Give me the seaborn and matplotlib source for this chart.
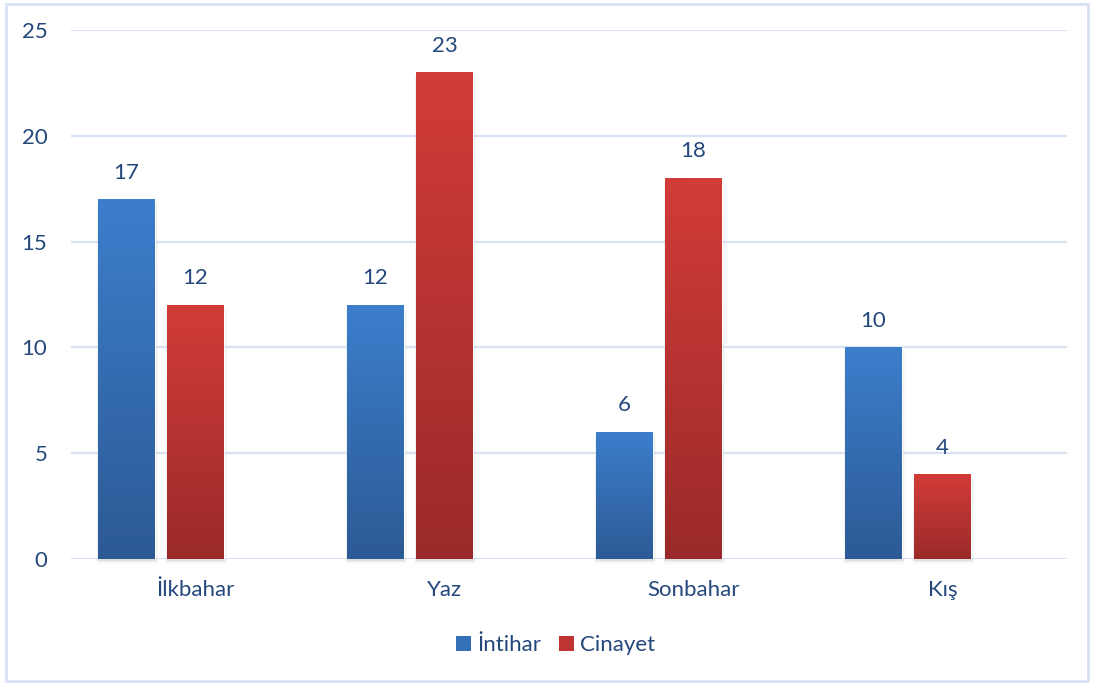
import numpy as np
import pandas as pd
import matplotlib
matplotlib.use("Agg")
import matplotlib.pyplot as plt
from matplotlib.colors import LinearSegmentedColormap
from matplotlib.patches import Patch, Rectangle
import seaborn as sns

# Seasonal counts of suicide (İntihar) and homicide (Cinayet) cases
seasons = ["İlkbahar", "Yaz", "Sonbahar", "Kış"]
intihar = [17, 12, 6, 10]
cinayet = [12, 23, 18, 4]
series_names = ["İntihar", "Cinayet"]
y_ticks = [0, 5, 10, 15, 20, 25]

# A third, empty series keeps the two visible bars left of each category centre
spacer = [0, 0, 0, 0]

df = pd.DataFrame({
    "season": seasons * 3,
    "series": ["İntihar"] * 4 + ["Cinayet"] * 4 + ["_spacer"] * 4,
    "value": intihar + cinayet + spacer,
})

sns.set_theme(style="white")
plt.rcParams["font.family"] = ["Lato", "DejaVu Sans"]

text_color = "#24477C"
grid_color = "#D9E2F3"
blue_top, blue_bot = "#3C7ECC", "#2C5A95"
red_top, red_bot = "#D23C39", "#9A2A29"
fs = 16

fig = plt.figure(figsize=(10.94, 6.84), dpi=100)
ax = fig.add_axes([71 / 1094, 1 - 559 / 684, (1067 - 71) / 1094, (559 - 30) / 684])

sns.barplot(
    data=df, x="season", y="value", hue="series",
    order=seasons, hue_order=["İntihar", "Cinayet", "_spacer"],
    palette=[blue_top, red_top, "white"],
    width=0.831, gap=0.174, errorbar=None, legend=False, ax=ax, zorder=3,
)

ax.set_xlim(-0.5, len(seasons) - 0.5)
ax.set_ylim(0, 25)

# Vertical gradient fill and soft shadow for each bar
grad = np.linspace(0, 1, 256).reshape(-1, 1)
cmaps = {
    0: LinearSegmentedColormap.from_list("b", [blue_bot, blue_top]),
    1: LinearSegmentedColormap.from_list("r", [red_bot, red_top]),
}
n = len(seasons)
bars = list(ax.patches)
for i, p in enumerate(bars):
    s = i // n
    h = p.get_height()
    if s > 1 or h <= 0:
        p.set_visible(False)
        continue
    x0, w = p.get_x(), p.get_width()
    for k, a in enumerate([0.06, 0.04, 0.025]):
        grow = 0.004 * (k + 1)
        sh = Rectangle((x0 - grow * 0.5, -0.10 - 0.06 * k), w + grow * 1.5, h,
                       facecolor="black", alpha=a, edgecolor="none", zorder=2,
                       clip_on=False)
        ax.add_patch(sh)
    ax.imshow(grad, extent=[x0, x0 + w, 0, h], origin="lower", aspect="auto",
              cmap=cmaps[s], zorder=4, interpolation="bilinear")
    ax.annotate(f"{h:g}", (x0 + w / 2, h), xytext=(0, 12), textcoords="offset points",
                ha="center", va="bottom", fontsize=fs, color=text_color)

ax.set_xlim(-0.5, len(seasons) - 0.5)
ax.set_ylim(0, 25)

ax.set_yticks(y_ticks)
ax.yaxis.grid(True, color=grid_color, linewidth=1.6, zorder=0)
ax.set_axisbelow(True)
for sp in ax.spines.values():
    sp.set_visible(False)
ax.axhline(0, color=grid_color, linewidth=1.8, zorder=1)
ax.tick_params(axis="both", length=0, labelsize=fs, labelcolor=text_color)
ax.tick_params(axis="y", pad=17)
ax.tick_params(axis="x", pad=15)
for lab in ax.get_yticklabels():
    lab.set_horizontalalignment("right")
ax.set_xlabel("")
ax.set_ylabel("")

handles = [Patch(facecolor="#3470B8", edgecolor="none"),
           Patch(facecolor="#BF3432", edgecolor="none")]
leg = fig.legend(handles, series_names, loc="center", bbox_to_anchor=(0.508, 1 - 645 / 684),
                 ncol=2, frameon=False, fontsize=fs, handlelength=0.65, handleheight=0.65,
                 handletextpad=0.3, columnspacing=0.8)
for t in leg.get_texts():
    t.set_color(text_color)

# Outer frame of the chart area
fig.patches.append(Rectangle((6 / 1094, 3 / 684), 1082 / 1094, 677 / 684,
                             transform=fig.transFigure, fill=False,
                             edgecolor=grid_color, linewidth=2))

fig.savefig("out.png", dpi=100)
